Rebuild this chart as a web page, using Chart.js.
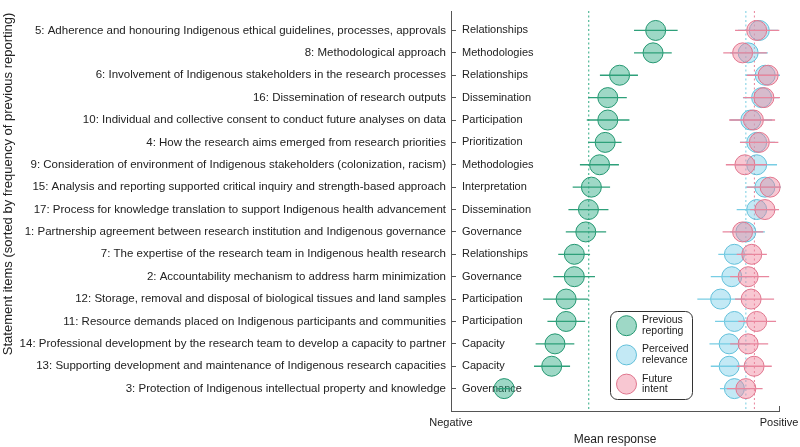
<!DOCTYPE html>
<html>
<head>
<meta charset="utf-8">
<script src="https://cdn.jsdelivr.net/npm/chart.js@4.4.1/dist/chart.umd.min.js"></script>
<style>
html,body{margin:0;padding:0;background:#ffffff;}
canvas{display:block;}
</style>
</head>
<body>
<canvas id="chart" width="800" height="447"></canvas>
<script>
// ---------------- data ----------------
const statements = [
  "5: Adherence and honouring Indigenous ethical guidelines, processes, approvals",
  "8: Methodological approach",
  "6: Involvement of Indigenous stakeholders in the research processes",
  "16: Dissemination of research outputs",
  "10: Individual and collective consent to conduct future analyses on data",
  "4: How the research aims emerged from research priorities",
  "9: Consideration of environment of Indigenous stakeholders (colonization, racism)",
  "15: Analysis and reporting supported critical inquiry and strength-based approach",
  "17: Process for knowledge translation to support Indigenous health advancement",
  "1: Partnership agreement between research institution and Indigenous governance",
  "7: The expertise of the research team in Indigenous health research",
  "2: Accountability mechanism to address harm minimization",
  "12: Storage, removal and disposal of biological tissues and land samples",
  "11: Resource demands placed on Indigenous participants and communities",
  "14: Professional development by the research team to develop a capacity to partner",
  "13: Supporting development and maintenance of Indigenous research capacities",
  "3: Protection of Indigenous intellectual property and knowledge"
];
const domains = [
  "Relationships","Methodologies","Relationships","Dissemination","Participation",
  "Prioritization","Methodologies","Interpretation","Dissemination","Governance",
  "Relationships","Governance","Participation","Participation","Capacity","Capacity","Governance"
];
const seriesNames = ["Previous reporting","Perceived relevance","Future intent"];
const legendLines = [["Previous","reporting"],["Perceived","relevance"],["Future","intent"]];
const xTickLabels = ["Negative","Positive"];
const yTitle = "Statement items (sorted by frequency of previous reporting)";
const xTitle = "Mean response";

// mean response on a 0 (negative) .. 100 (positive) scale
const previousMean = [62.4,61.6,51.4,47.8,47.8,47.0,45.3,42.8,41.9,41.1,37.6,37.6,35.1,35.1,31.7,30.7,16.2];
const previousLo   = [55.8,55.8,45.4,41.8,41.4,41.8,39.3,37.1,35.8,35.0,32.7,31.2,28.1,29.4,25.8,25.3,14.0];
const previousHi   = [69.1,67.3,57.0,53.6,54.4,52.0,51.2,48.5,48.0,47.3,42.4,43.9,41.9,40.9,37.6,36.3,18.3];

const relevanceMean = [94.0,90.6,95.8,94.7,91.4,93.2,93.2,95.7,93.2,89.9,86.4,85.6,82.2,86.4,84.8,84.8,86.4];
const relevanceLo   = [87.5,85.1,89.9,89.0,85.1,88.1,86.6,89.9,87.1,85.1,81.5,79.2,75.1,80.5,78.8,79.2,82.0];
const relevanceHi   = [99.7,96.6,100.3,100.0,97.9,98.8,99.4,100.6,99.1,95.7,91.8,91.8,89.6,91.8,91.2,90.5,91.2];

const intentMean = [93.2,88.9,96.7,95.4,92.2,94.0,89.6,97.3,95.7,88.9,91.7,90.6,91.5,93.2,90.6,92.4,89.9];
const intentLo   = [86.6,83.0,90.2,89.1,84.8,88.1,83.8,90.2,91.2,82.8,87.1,85.1,86.6,87.6,85.1,87.1,84.1];
const intentHi   = [100.1,96.3,99.7,100.3,98.8,99.8,96.3,100.3,100.0,95.2,96.3,97.0,98.5,99.1,96.7,97.8,95.0];

const groupMeans = [42.0, 89.9, 92.5];

// ---------------- styles ----------------
const styles = [
  {fill:"rgba(40,168,128,0.45)", stroke:"rgb(34,150,112)", bar:"rgb(46,160,122)", mean:"rgb(46,170,130)"},
  {fill:"rgba(130,208,235,0.48)", stroke:"rgb(98,192,218)", bar:"rgb(120,205,228)", mean:"rgb(120,205,225)"},
  {fill:"rgba(240,130,155,0.45)", stroke:"rgb(224,118,142)", bar:"rgb(232,135,158)", mean:"rgb(232,130,155)"}
];

const Y_MIN = -0.8696, Y_MAX = 17.0;
const FONT = '"Liberation Sans", Arial, Helvetica, sans-serif';
Chart.defaults.font.family = FONT;
Chart.defaults.color = '#222';

function pts(vals){ return vals.map((v,i)=>({x:v, y:i})); }
function bars(lo, hi){
  const out = [];
  lo.forEach((l,i)=>{ out.push({x:l,y:i},{x:hi[i],y:i},{x:null,y:null}); });
  return out;
}
function vline(v){ return [{x:v,y:Y_MIN},{x:v,y:Y_MAX}]; }

const means = [previousMean, relevanceMean, intentMean];
const los = [previousLo, relevanceLo, intentLo];
const his = [previousHi, relevanceHi, intentHi];

const datasets = [];
// draw order: lower "order" drawn on top
[2,1,0].forEach((k, n) => {
  datasets.push({
    type:'line', label: seriesNames[k] + ' range', data: bars(los[k], his[k]),
    borderColor: styles[k].bar, borderWidth: 1.3, pointRadius: 0, pointHitRadius: 0,
    spanGaps: false, clip: false, order: n*2
  });
  datasets.push({
    type:'scatter', label: seriesNames[k], data: pts(means[k]),
    backgroundColor: styles[k].fill, borderColor: styles[k].stroke, borderWidth: 1,
    pointRadius: 10, pointHoverRadius: 10, clip: false, order: n*2+1
  });
});
groupMeans.forEach((m,k) => {
  datasets.push({
    type:'line', label: seriesNames[k] + ' mean', data: vline(m),
    borderColor: styles[k].mean, borderWidth: 1, borderDash: [2,2.5],
    pointRadius: 0, pointHitRadius: 0, order: 10 + k
  });
});

const boxLegend = {
  id: 'boxLegend',
  afterDatasetsDraw(chart) {
    const ctx = chart.ctx;
    const x0 = 610.5, y0 = 311.5, w = 82, h = 88, r = 7;
    ctx.save();
    ctx.beginPath();
    ctx.moveTo(x0 + r, y0);
    ctx.lineTo(x0 + w - r, y0); ctx.arcTo(x0 + w, y0, x0 + w, y0 + r, r);
    ctx.lineTo(x0 + w, y0 + h - r); ctx.arcTo(x0 + w, y0 + h, x0 + w - r, y0 + h, r);
    ctx.lineTo(x0 + r, y0 + h); ctx.arcTo(x0, y0 + h, x0, y0 + h - r, r);
    ctx.lineTo(x0, y0 + r); ctx.arcTo(x0, y0, x0 + r, y0, r);
    ctx.closePath();
    ctx.fillStyle = '#ffffff'; ctx.fill();
    ctx.strokeStyle = '#333333'; ctx.lineWidth = 1; ctx.stroke();
    legendLines.forEach((lines, k) => {
      const cy = y0 + 14.2 + k * 29.2;
      ctx.beginPath();
      ctx.arc(x0 + 16, cy, 10, 0, Math.PI * 2);
      ctx.fillStyle = styles[k].fill; ctx.fill();
      ctx.strokeStyle = styles[k].stroke; ctx.lineWidth = 1; ctx.stroke();
      ctx.font = '10.5px ' + FONT;
      ctx.fillStyle = '#222'; ctx.textAlign = 'left'; ctx.textBaseline = 'middle';
      lines.forEach((t, j) => ctx.fillText(t, x0 + 31.5, cy - 5.3 + j * 10.6));
    });
    ctx.restore();
  }
};

const rowTicks = s => { s.ticks = statements.map((_, i) => ({value: i})); };

new Chart(document.getElementById('chart'), {
  type: 'scatter',
  data: { datasets },
  plugins: [boxLegend],
  options: {
    responsive: false,
    animation: false,
    devicePixelRatio: 1,
    events: [],
    layout: { padding: {top: 0, right: 21, bottom: 0, left: 0} },
    plugins: { legend: {display: false}, tooltip: {enabled: false} },
    scales: {
      x: {
        type: 'linear', position: 'bottom', min: 0, max: 100,
        afterBuildTicks: s => { s.ticks = [{value: 0}, {value: 100}]; },
        ticks: { callback: (v, i) => xTickLabels[i], font: {size: 11}, color: '#222', padding: 10.4, autoSkip: false, maxRotation: 0 },
        grid: { drawOnChartArea: false, drawTicks: true, tickLength: -5, color: '#555', lineWidth: 1 },
        border: { display: true, color: '#555', width: 1 },
        title: { display: true, text: xTitle, font: {size: 12}, color: '#222', padding: {top: 0, bottom: 0} },
        afterFit: s => { s.height = 36; s.paddingLeft = 0; s.paddingRight = 0; }
      },
      y: {
        type: 'linear', position: 'left', weight: 2, min: Y_MIN, max: Y_MAX, reverse: true,
        afterBuildTicks: rowTicks,
        ticks: { callback: v => statements[v], font: {size: 11.5}, color: '#222', padding: 5, autoSkip: false },
        grid: { display: false, drawTicks: false },
        border: { display: false },
        title: { display: true, text: '\u00A0'.repeat(15) + yTitle, font: {size: 13}, color: '#222', padding: {top: 1, bottom: 0} },
        afterFit: s => { s.width = 451; s.paddingTop = 0; s.paddingBottom = 0; }
      },
      yD: {
        type: 'linear', position: 'left', weight: 1, min: Y_MIN, max: Y_MAX, reverse: true,
        afterBuildTicks: rowTicks,
        ticks: { mirror: true, callback: v => domains[v], font: {size: 11}, color: '#222', padding: 11, autoSkip: false },
        grid: { drawOnChartArea: false, drawTicks: true, tickLength: -5, color: '#555', lineWidth: 1 },
        border: { display: true, color: '#555', width: 1 },
        afterFit: s => { s.width = 0; s.paddingTop = 0; s.paddingBottom = 0; }
      }
    }
  }
});
</script>
</body>
</html>
